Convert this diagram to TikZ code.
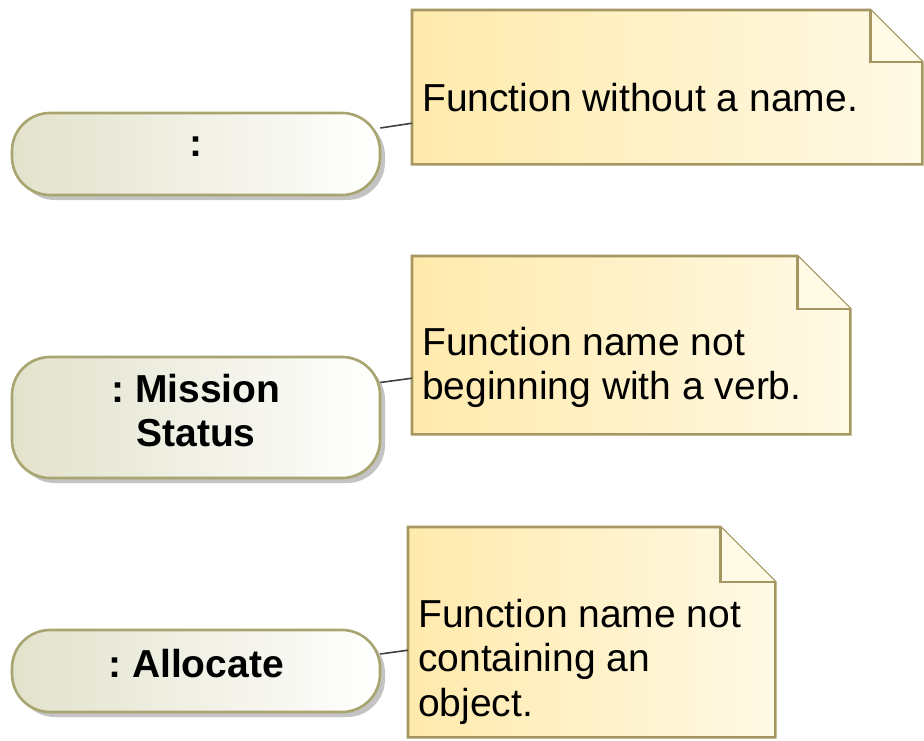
\documentclass[tikz,border=0pt]{standalone}
\usepackage{fontspec}
\setmainfont{Liberation Sans}
\usetikzlibrary{calc, positioning, shadows}
\definecolor{boxedge}  {RGB}{168, 165, 112}
\definecolor{boxfill}  {RGB}{226, 226, 204}
\definecolor{noteedge} {RGB}{165, 150,  98}
\definecolor{notefill} {RGB}{255, 234, 172}
\definecolor{foldfill} {RGB}{255, 250, 230}
\definecolor{shade}    {RGB}{195, 195, 195}
\frenchspacing

\tikzset{
  fnbox/.style={rectangle, rounded corners=38pt, draw=boxedge, line width=2.6pt,
    left color=boxfill, right color=white, minimum width=368pt, align=center,
    text depth=15pt, font=\fontsize{39}{44}\selectfont\bfseries,
    drop shadow={shadow xshift=5pt, shadow yshift=-5pt, fill=shade, opacity=1}},
  notearea/.style={rectangle, inner sep=0pt, anchor=north west},
  notetext/.style={inner sep=0pt, anchor=north west, align=left,
    font=\fontsize{39}{44.5}\selectfont},
  link/.style={draw=black!75, line width=1.6pt},
}

% note outline with folded corner: node name, fold size
\newcommand\foldnote[2]{%
  \fill[shade, shift={(5,5)}] (#1.north west) -- ($(#1.north east)-(#2,0)$)
    -- ($(#1.north east)+(0,#2)$) -- (#1.south east) -- (#1.south west) -- cycle;
  \draw[noteedge, line width=2.6pt, left color=notefill, right color=foldfill]
    (#1.north west) -- ($(#1.north east)-(#2,0)$)
    -- ($(#1.north east)+(0,#2)$) -- (#1.south east) -- (#1.south west) -- cycle;
  \draw[noteedge, line width=2.6pt, fill=foldfill, line join=miter]
    ($(#1.north east)-(#2,0)$) -- ($(#1.north east)+(-#2,#2)$)
    -- ($(#1.north east)+(0,#2)$);
}

\begin{document}
\begin{tikzpicture}[x=1pt, y=-1pt]
  \useasboundingbox (0,0) rectangle (924,741);

  % functions
  \node[fnbox, minimum height=82pt]  (anon)    at (196,154) {:};
  \node[fnbox, minimum height=121pt] (mission) at (196,417.5) {: Mission\\Status};
  \node[fnbox, minimum height=82pt]  (alloc)   at (196,671) {: Allocate};

  % notes
  \node[notearea, minimum width=510pt, minimum height=154pt] (noname) at (412,10) {};
  \node[notearea, minimum width=438pt, minimum height=178pt] (noverb) at (412,256) {};
  \node[notearea, minimum width=367pt, minimum height=210pt] (noobj)  at (408,527) {};
  \foldnote{noname}{52}
  \foldnote{noverb}{53}
  \foldnote{noobj}{55}
  \node[notetext] (t1) at (422,83)  {Function without a name.};
  \node[notetext] (t2) at (422,327) {Function name not\\beginning with a verb.};
  \node[notetext] (t3) at (418,599) {Function name not\\containing an\\object.};

  % anchors
  \draw[link] ($(anon.east)+(-1,-26)$)    -- ($(noname.west)+(0,36)$);
  \draw[link] ($(mission.east)+(-1,-35)$) -- ($(noverb.west)+(0,33)$);
  \draw[link] ($(alloc.east)+(-1,-17)$)   -- ($(noobj.west)+(0,18)$);
\end{tikzpicture}
\end{document}
